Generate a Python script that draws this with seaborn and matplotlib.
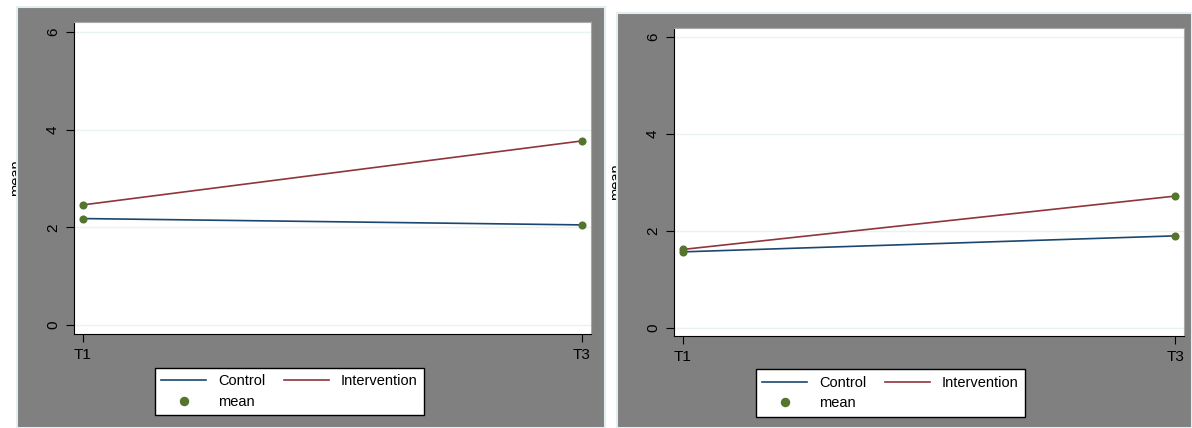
import seaborn as sns
import matplotlib.pyplot as plt
import pandas as pd
from matplotlib.patches import Rectangle
from matplotlib.lines import Line2D

# values
times = ["T1", "T3"]
groups = ["Control", "Intervention"]
left_control = [2.18, 2.05]
left_interv = [2.46, 3.77]
right_control = [1.57, 1.90]
right_interv = [1.62, 2.72]
yticks = [0, 2, 4, 6]

navy = "#1a476f"
maroon = "#90353b"
green = "#55752f"
panel_gray = "#808080"
grid_col = "#eaf2f3"

plt.rcParams['font.family'] = ['Liberation Sans', 'DejaVu Sans']
plt.rcParams['font.size'] = 10.5

W, H = 1192, 428
fig = plt.figure(figsize=(W / 100, H / 100), dpi=100)
fig.patch.set_facecolor("white")


def px(x0, y0, x1, y1):
    # pixel box (top-left origin) -> figure fraction rect
    return [x0 / W, (H - y1) / H, (x1 - x0) / W, (y1 - y0) / H]


def make_df(ctrl, interv):
    return pd.DataFrame({
        "time": times * 2,
        "mean": ctrl + interv,
        "group": [groups[0]] * 2 + [groups[1]] * 2,
    })


panels = [
    dict(bg=(17, 7, 605, 428), ax=(74, 22, 591, 334), ylim=(-0.184, 6.205),
         lab_x=9, lab_y=178, leg=(289.5, 391.5), data=make_df(left_control, left_interv)),
    dict(bg=(617, 13, 1192, 428), ax=(674, 28, 1184, 336), ylim=(-0.165, 6.186),
         lab_x=609, lab_y=182, leg=(890.5, 393), data=make_df(right_control, right_interv)),
]

for p in panels:
    # cut-off y label sitting behind the gray panel
    fig.text(p["lab_x"] / W, 1 - p["lab_y"] / H, "mean", rotation=90,
             ha="left", va="center", fontsize=10.5, zorder=0.5)
    x0, y0, x1, y1 = p["bg"]
    r = px(x0, y0, x1, y1)
    fig.patches.append(Rectangle((r[0], r[1]), r[2], r[3], transform=fig.transFigure,
                                 facecolor=panel_gray, edgecolor="#e4eef0", lw=1.5,
                                 zorder=1))

    ax = fig.add_axes(px(*p["ax"]))
    ax.set_zorder(2)
    ax.set_facecolor("white")
    df = p["data"]
    sns.lineplot(data=df, x="time", y="mean", hue="group",
                 palette={"Control": navy, "Intervention": maroon},
                 lw=1.2, legend=False, ax=ax, zorder=3)
    sns.scatterplot(data=df, x="time", y="mean", color=green, s=34,
                    edgecolor=green, linewidth=0, legend=False, ax=ax, zorder=4)
    ax.set_xlim(-0.018, 1.018)
    ax.set_ylim(*p["ylim"])
    ax.set_yticks(yticks)
    ax.set_yticklabels([str(t) for t in yticks], rotation=90, va="center")
    ax.grid(axis="y", color=grid_col, lw=1)
    ax.grid(axis="x", visible=False)
    ax.set_axisbelow(True)
    ax.set_xlabel("")
    ax.set_ylabel("")
    ax.tick_params(axis="both", direction="out", length=6, width=0.8,
                   color="black", labelsize=11)
    ax.tick_params(axis="y", pad=4)
    ax.tick_params(axis="x", pad=4)
    for s in ["left", "bottom"]:
        ax.spines[s].set_color("black")
        ax.spines[s].set_linewidth(0.8)
    for s in ["top", "right"]:
        ax.spines[s].set_color("#a8a8a8")
        ax.spines[s].set_linewidth(0.8)

    handles = [
        Line2D([], [], color=navy, lw=1.2),
        Line2D([], [], color=green, marker="o", ls="none", markersize=5.8),
        Line2D([], [], color=maroon, lw=1.2),
    ]
    labels = ["Control", "mean", "Intervention"]
    lx, ly = p["leg"]
    leg = fig.legend(handles, labels, ncol=2, loc="center",
                     bbox_to_anchor=(lx / W, 1 - ly / H),
                     frameon=True, fancybox=False, shadow=False,
                     handlelength=3.1, handletextpad=0.8, columnspacing=1.3,
                     labelspacing=0.45, borderpad=0.45, fontsize=10.5)
    leg.get_frame().set_edgecolor("black")
    leg.get_frame().set_linewidth(1.0)
    leg.get_frame().set_alpha(1)
    leg.set_zorder(3)

fig.savefig("out.png", dpi=100)
